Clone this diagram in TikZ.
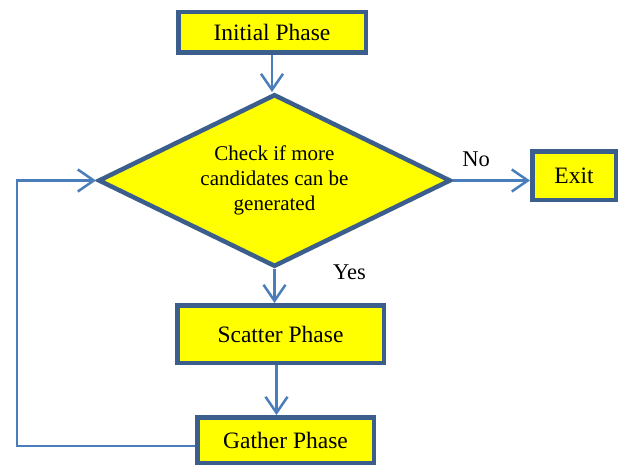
\documentclass[tikz,border=0pt]{standalone}
\usepackage{fontspec}
\setmainfont{Liberation Serif}
\usepackage{tikz}
\usetikzlibrary{shapes.geometric, arrows.meta, positioning}
\definecolor{BoxYellow}{rgb}{1, 1, 0}
\definecolor{BoxBlue}{RGB}{59, 94, 140}
\definecolor{LineBlue}{RGB}{74, 126, 187}
\tikzstyle{phase} = [rectangle, text centered, draw=BoxBlue, line width=4.5pt, fill=BoxYellow, font=\fontsize{23.5}{28}\selectfont]
\tikzstyle{decision} = [diamond, aspect=2, inner sep=0pt, text centered, draw=BoxBlue, line width=4.5pt, fill=BoxYellow, font=\fontsize{21}{25}\selectfont]
\tikzstyle{arrow} = [line width=2.5pt, draw=LineBlue, ->, >={Straight Barb[length=16pt,width=22pt]}]
\tikzstyle{lbl} = [font=\fontsize{22.5}{27}\selectfont]

\begin{document}
\begin{tikzpicture}[node distance=1.5cm and 1.5cm]
  \useasboundingbox (0,0) rectangle (627pt,-468pt);

  \node (init) [phase, minimum width=187.5pt, minimum height=40.5pt] at (272pt,-32.5pt) {Initial Phase};
  \node (check) [decision, below=37pt of init, xshift=2.5pt, minimum width=352.5pt, minimum height=172.5pt, align=center] {Check if more\\ candidates can be\\ generated};
  \node (exit) [phase, right=77pt of check, yshift=4.5pt, minimum width=83.5pt, minimum height=48.5pt] {Exit};
  \node (scatter) [phase, below=34pt of check, xshift=6pt, minimum width=206.5pt, minimum height=57.5pt] {Scatter Phase};
  \node (gather) [phase, below=50pt of scatter, xshift=5pt, minimum width=176.5pt, minimum height=45.5pt] {Gather Phase};

  \node (nolbl) [lbl] at ([xshift=23pt,yshift=21pt]check.east) {No};
  \node (yeslbl) [lbl] at ([xshift=75pt,yshift=-3pt]check.south) {Yes};

  \draw [arrow] (init.south) -- (init.south |- check.north);
  \draw [arrow] (check.east) -- (check.east -| exit.west);
  \draw [arrow] (check.south) -- (check.south |- scatter.north);
  \draw [arrow] ([xshift=-4pt]scatter.south) -- ([xshift=-4pt]scatter.south |- gather.north);
  \draw [arrow] ([yshift=-6pt]gather.west) -- ++(-178pt,0) |- (check.west);

\end{tikzpicture}
\end{document}
